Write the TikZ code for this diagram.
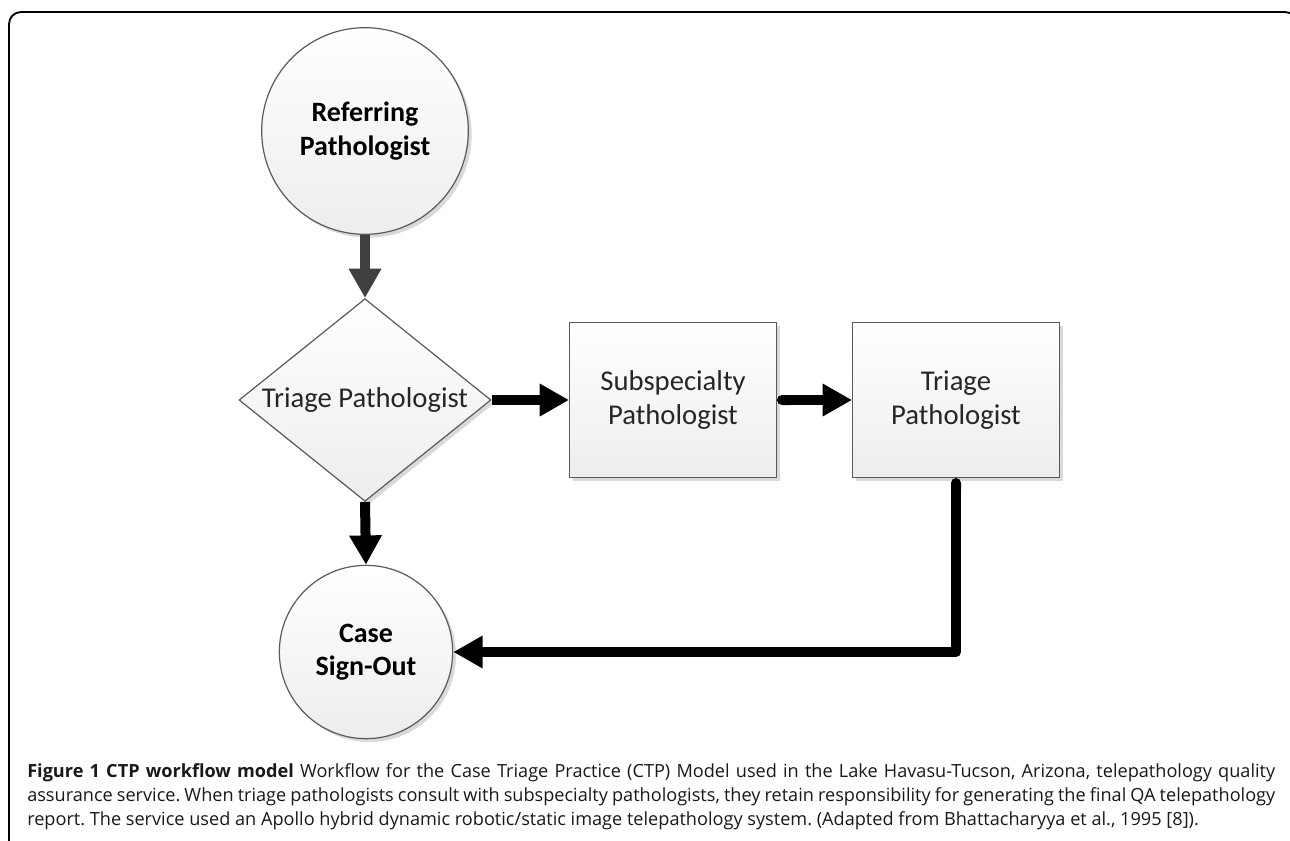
\documentclass[tikz,border=0pt]{standalone}
\usepackage{fontspec}
\newfontfamily\diag{Carlito}
\newfontfamily\capfont{Open Sans}
\usetikzlibrary{arrows.meta,shapes.geometric,shadows}
\definecolor{arrgray}{HTML}{404040}
\definecolor{bordergray}{HTML}{5A5A5A}
\definecolor{txtgray}{HTML}{262626}
\frenchspacing
\newcommand\capline[1]{\hbox to 936pt{\spaceskip=0.26em plus 0.4em minus 0.12em #1}}
\begin{document}
\begin{tikzpicture}[x=0.75pt,y=-0.75pt,
  shp/.style={draw=bordergray, line width=0.9pt, top color=white, bottom color=black!7,
    drop shadow={shadow xshift=2.5pt, shadow yshift=-2.5pt, opacity=0.15, fill=black}},
  circ/.style={shp, circle, inner sep=0pt, align=center, text=black,
    font=\diag\bfseries\fontsize{21}{25}\selectfont},
  boxnode/.style={shp, rectangle, minimum width=155pt, minimum height=116pt, inner sep=0pt,
    align=center, text=txtgray, font=\diag\fontsize{21.5}{26}\selectfont},
  dia/.style={shp, diamond, minimum width=189pt, minimum height=152pt, inner sep=0pt},
  diatext/.style={text=txtgray, font=\diag\fontsize{21.5}{26}\selectfont, inner sep=0pt},
  flow/.style={line width=7.5pt, -{Triangle[width=23pt,length=22pt]}},
  captxt/.style={anchor=base west, inner sep=0pt, text=black!90, font=\capfont\fontsize{13.6}{18}\selectfont}
]
\useasboundingbox (0,0) rectangle (1290,840);
\fill[white] (0,0) rectangle (1290,840);
\draw[line width=1.4pt, rounded corners=9pt] (9,12) rectangle (1297,880);

\node[circ, minimum size=155pt] (ref) at (365,131) {Referring\\Pathologist};
\node[dia] (tri1) at (365,400) {};
\node[diatext] (tri1t) at (tri1.center) {Triage Pathologist};
\node[boxnode] (sub) at (673,400) {Subspecialty\\Pathologist};
\node[boxnode] (tri2) at (956,400) {Triage\\Pathologist};
\node[circ, minimum size=130pt] (case) at (366,652) {Case\\Sign-Out};

\draw[flow, draw=arrgray, fill=arrgray] (ref.south) -- (tri1.north);
\draw[flow] (tri1.east) -- (sub.west);
\draw[flow, {Round Cap[]}-{Triangle[width=23pt,length=22pt]}] (sub.east) -- (tri2.west);
\draw[flow] (tri1.south) -- (case.north);
\draw[flow, line join=round, {Round Cap[]}-{Triangle[width=23pt,length=22pt]}] (tri2.south) -- (tri2.south |- case.east) -- (case.east);

\node[captxt] (cap1) at (27,777) {\capline{\textbf{Figure 1 CTP workflow model} Workflow for the Case Triage Practice (CTP) Model used in the Lake Havasu-Tucson, Arizona, telepathology quality}};
\node[captxt] (cap2) at (27,801) {\capline{assurance service. When triage pathologists consult with subspecialty pathologists, they retain responsibility for generating the final QA telepathology}};
\node[captxt] (cap3) at (27,825) {{\spaceskip=0.26em plus 0.4em minus 0.12em report. The service used an Apollo hybrid dynamic robotic/static image telepathology system. (Adapted from Bhattacharyya et al., 1995 [8]).}};
\end{tikzpicture}
\end{document}
